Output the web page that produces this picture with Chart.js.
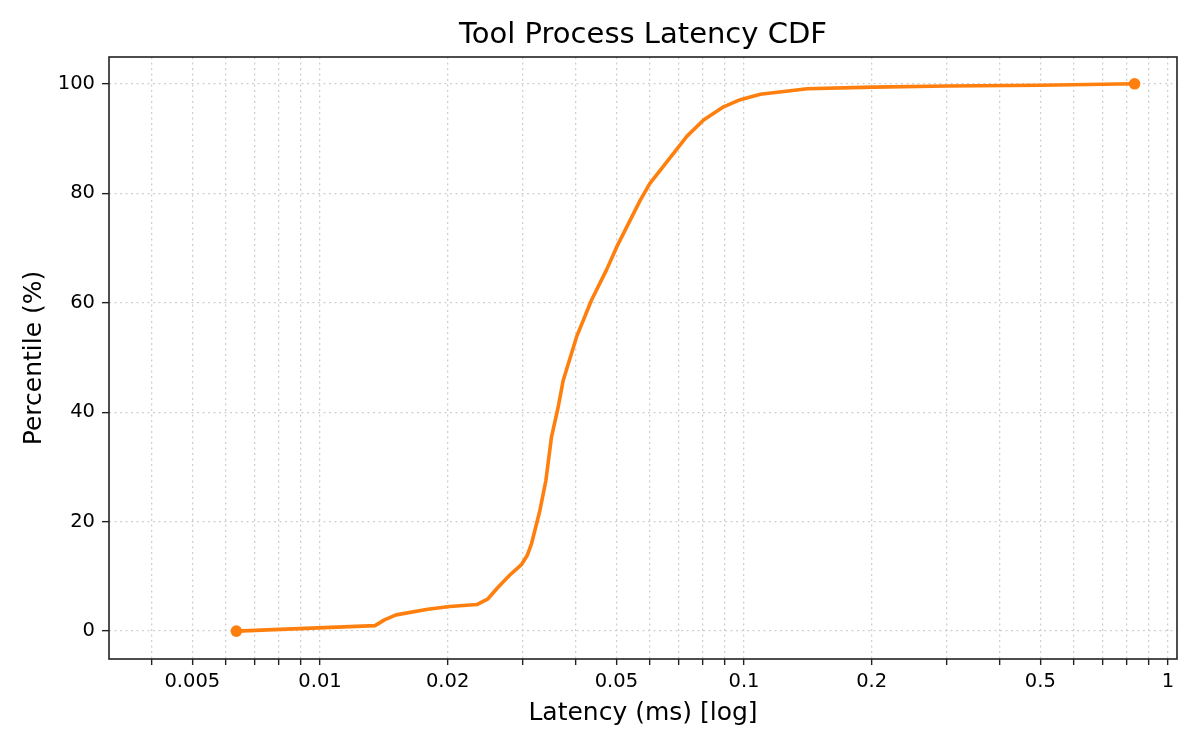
<!DOCTYPE html>
<html>
<head>
<meta charset="utf-8">
<script src="https://cdn.jsdelivr.net/npm/chart.js@4/dist/chart.umd.min.js"></script>
<style>
  html, body { margin: 0; padding: 0; background: #ffffff; }
  #wrap { width: 1200px; height: 750px; position: relative; }
</style>
</head>
<body>
<div id="wrap"><canvas id="c"></canvas></div>
<script>
// Latency (ms) values of the CDF curve
const latencyMs = [0.00635, 0.01349, 0.01419, 0.01512, 0.01796, 0.02022, 0.02345, 0.0249, 0.0263, 0.0280,
  0.0299, 0.0308, 0.03155, 0.0330, 0.0341, 0.03516, 0.03645, 0.03746, 0.0403, 0.0437,
  0.0474, 0.0501, 0.0569, 0.0600, 0.0682, 0.0733, 0.0803, 0.0895, 0.0980, 0.1093, 0.141, 0.202,
  0.302, 0.502, 0.834];
// Percentile values (%)
const percentile = [0, 1.0, 2.05, 2.96, 3.99, 4.48, 4.85, 5.9, 8.0, 10.2,
  12.2, 13.8, 16.0, 22.0, 27.5, 35.5, 40.9, 45.8, 53.8, 60.5,
  66.0, 70.2, 78.7, 81.8, 87.3, 90.4, 93.4, 95.8, 97.1, 98.1, 99.1, 99.4,
  99.6, 99.75, 100];
// Axis ticks
const xTickValues = [0.004, 0.005, 0.006, 0.007, 0.008, 0.009, 0.01, 0.02, 0.03, 0.04, 0.05, 0.06, 0.07, 0.08, 0.09,
  0.1, 0.2, 0.3, 0.4, 0.5, 0.6, 0.7, 0.8, 0.9, 1];
const xTickLabels = ['0.005', '0.01', '0.02', '0.05', '0.1', '0.2', '0.5', '1'];
const yTickValues = [0, 20, 40, 60, 80, 100];
const chartTitle = 'Tool Process Latency CDF';

const ORANGE = '#ff7f0e';
const FONT = "'DejaVu Sans', sans-serif";

const points = latencyMs.map((x, i) => ({ x: x, y: percentile[i] }));
const lastIdx = points.length - 1;

const framePlugin = {
  id: 'frame',
  afterDraw(chart) {
    const { ctx, chartArea: a } = chart;
    ctx.save();
    ctx.strokeStyle = '#222222';
    ctx.lineWidth = 1.6;
    ctx.strokeRect(a.left, a.top, a.right - a.left, a.bottom - a.top);
    ctx.restore();
  }
};

new Chart(document.getElementById('c'), {
  type: 'line',
  data: {
    datasets: [{
      data: points,
      borderColor: ORANGE,
      backgroundColor: ORANGE,
      borderWidth: 3.6,
      borderJoinStyle: 'round',
      borderCapStyle: 'round',
      tension: 0,
      pointRadius: (ctx) => (ctx.dataIndex === 0 || ctx.dataIndex === lastIdx) ? 5.8 : 0,
      pointHoverRadius: 0,
      pointBorderWidth: 0,
      fill: false
    }]
  },
  options: {
    responsive: true,
    maintainAspectRatio: false,
    animation: false,
    devicePixelRatio: 1,
    layout: { padding: { left: 0, right: 23, top: 0, bottom: 0 } },
    plugins: {
      legend: { display: false },
      tooltip: { enabled: false },
      title: { display: false }
    },
    scales: {
      x: {
        type: 'logarithmic',
        min: 0.00318,
        max: 1.05,
        afterBuildTicks: (scale) => { scale.ticks = xTickValues.map(v => ({ value: v })); },
        afterFit: (scale) => { scale.height = 91; },
        ticks: {
          autoSkip: false,
          maxRotation: 0,
          color: '#000000',
          font: { family: FONT, size: 19.5 },
          padding: 5,
          callback: (v) => {
            const s = String(+v.toPrecision(6));
            return xTickLabels.includes(s) ? s : '';
          }
        },
        grid: {
          color: '#cfcfcf',
          lineWidth: 1.3,
          tickLength: 6,
          tickColor: '#222222',
          tickWidth: 1.4
        },
        border: { display: false, dash: [2, 3.5] },
        title: {
          display: true,
          text: 'Latency (ms) [log]',
          color: '#000000',
          font: { family: FONT, size: 25 },
          padding: { top: 0, bottom: 22 }
        }
      },
      xTitle: {
        type: 'linear',
        position: 'top',
        display: true,
        afterFit: (scale) => { scale.height = 57; },
        ticks: { display: false },
        grid: { display: false, drawTicks: false },
        border: { display: false },
        title: {
          display: true,
          text: chartTitle,
          color: '#000000',
          font: { family: FONT, size: 29 },
          padding: { top: 17.6, bottom: 0 }
        }
      },
      y: {
        type: 'linear',
        min: -5.1,
        max: 104.9,
        afterBuildTicks: (scale) => { scale.ticks = yTickValues.map(v => ({ value: v })); },
        afterFit: (scale) => { scale.width = 109; },
        ticks: {
          color: '#000000',
          font: { family: FONT, size: 19.5 },
          padding: 7,
          callback: (v) => String(v)
        },
        grid: {
          color: '#cfcfcf',
          lineWidth: 1.3,
          tickLength: 7,
          tickColor: '#222222',
          tickWidth: 1.4
        },
        border: { display: false, dash: [2, 3.5] },
        title: {
          display: true,
          text: 'Percentile (%)',
          color: '#000000',
          font: { family: FONT, size: 25 },
          padding: { top: 19, bottom: 0 }
        }
      }
    }
  },
  plugins: [framePlugin]
});
</script>
</body>
</html>
